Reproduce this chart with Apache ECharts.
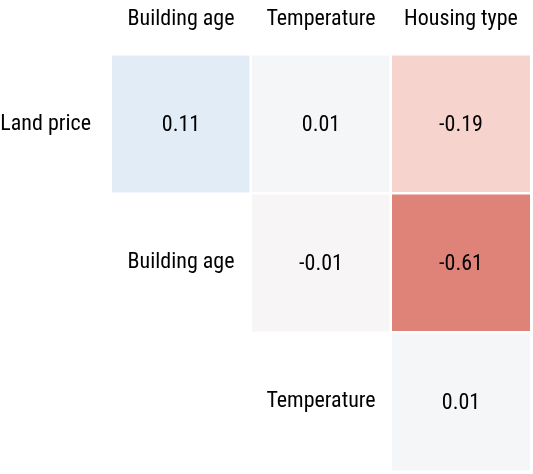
<!DOCTYPE html>
<html>
<head>
<meta charset="utf-8">
<script src="https://cdn.jsdelivr.net/npm/echarts@6/dist/echarts.min.js"></script>
<style>
html,body{margin:0;padding:0;background:#fff;}
#chart{width:533px;height:474px;}
</style>
</head>
<body>
<div id="chart"></div>
<script>
var columns = ['Building age', 'Temperature', 'Housing type'];
var rows = ['Land price', 'Building age', 'Temperature'];
// correlation values per row (upper triangle), null = empty
var rowLandPrice = [0.11, 0.01, -0.19];
var rowBuildingAge = [null, -0.01, -0.61];
var rowTemperature = [null, null, 0.01];

var matrix = [rowLandPrice, rowBuildingAge, rowTemperature];
var cells = [];
matrix.forEach(function (r, yi) {
  r.forEach(function (v, xi) {
    if (v !== null) cells.push([xi, yi, v]);
  });
});
var diagLabels = [];
for (var i = 1; i < rows.length; i++) {
  diagLabels.push({ value: [i - 1, i, 0], name: rows[i] });
}

var FONT = '"Roboto Condensed", "Noto Sans Condensed", Lato, sans-serif';
var FS = 22;

var chart = echarts.init(document.getElementById('chart'), null, { renderer: 'canvas' });
chart.setOption({
  animation: false,
  backgroundColor: '#ffffff',
  grid: { left: 111, width: 420, top: 54.5, height: 417, outerBoundsMode: 'none', containLabel: false },
  xAxis: {
    type: 'category',
    data: columns,
    position: 'top',
    axisLine: { show: false },
    axisTick: { show: false },
    splitLine: { show: false },
    axisLabel: { color: '#000', fontSize: FS, fontFamily: FONT, margin: 24, interval: 0 }
  },
  yAxis: {
    type: 'category',
    data: rows,
    inverse: true,
    axisLine: { show: false },
    axisTick: { show: false },
    splitLine: { show: false },
    axisLabel: {
      color: '#000', fontSize: FS, fontFamily: FONT, margin: 20, interval: 0,
      padding: [0, 0, 6, 0],
      formatter: function (v, idx) { return idx === 0 ? v : ''; }
    }
  },
  visualMap: {
    show: false,
    type: 'continuous',
    dimension: 2,
    seriesIndex: 0,
    min: -1,
    max: 1,
    inRange: {
      color: ['#B2182B', '#BE3538', '#C9504A', '#D56B61', '#E0867A', '#E89A8E',
              '#EFAFA4', '#F4C2B9', '#F7D1CB', '#F7E7E4', '#F7F7F7',
              '#E3EDF7', '#CBE1F7', '#B3D3F1', '#9CC6EC', '#84B6E4', '#6CA6DC',
              '#5493CE', '#3C7FC0', '#2D6CAD', '#1F5A9A']
    }
  },
  series: [
    {
      type: 'heatmap',
      data: cells,
      itemStyle: { borderColor: '#ffffff', borderWidth: 2.5 },
      emphasis: { disabled: true },
      label: {
        show: true,
        color: '#000',
        fontSize: FS,
        fontFamily: FONT,
        offset: [0, 1],
        formatter: function (p) { return p.value[2].toFixed(2); }
      }
    },
    {
      type: 'heatmap',
      data: diagLabels,
      silent: true,
      itemStyle: { color: 'rgba(255,255,255,0)', borderWidth: 0 },
      emphasis: { disabled: true },
      label: {
        show: true,
        color: '#000',
        fontSize: FS,
        fontFamily: FONT,
        offset: [0, -1],
        formatter: function (p) { return p.name; }
      }
    }
  ]
});
</script>
</body>
</html>
